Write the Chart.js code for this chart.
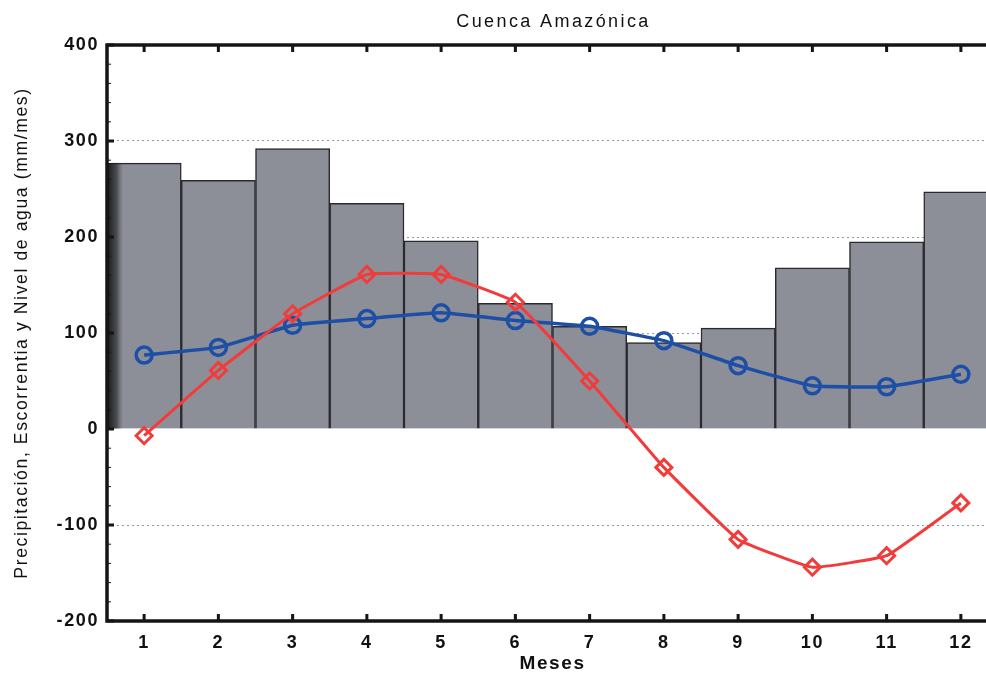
<!DOCTYPE html>
<html>
<head>
<meta charset="utf-8">
<title>Cuenca Amazónica</title>
<script src="https://cdn.jsdelivr.net/npm/chart.js@4/dist/chart.umd.min.js"></script>
<style>
  html, body { margin: 0; padding: 0; background: #fff; overflow: hidden; }
  #wrap { width: 1010px; height: 675px; }
</style>
</head>
<body>
<div id="wrap"><canvas id="graphCanvas" width="1010" height="675"></canvas></div>
<script>
// Data (mm/mes)
const months = ['1', '2', '3', '4', '5', '6', '7', '8', '9', '10', '11', '12'];
const precipitation = [277, 259, 292, 235, 196, 131, 107, 90, 105, 168, 195, 247];
const runoff = [77, 85, 108, 115, 121, 113, 107, 92, 66, 45, 44, 57];
const waterLevel = [-7, 61, 120, 161, 161, 132, 50, -40, -115, -144, -132, -77];
const yTicks = [-200, -100, 0, 100, 200, 300, 400];
const gridValues = [-100, 100, 200, 300];

const chartTitle = 'Cuenca Amazónica';
const xTitle = 'Meses';
const yTitle = 'Precipitación, Escorrentia y Nivel de agua (mm/mes)';

Chart.defaults.font.family = '"Liberation Sans", Arial, sans-serif';
Chart.defaults.color = '#111';

// scanned text looks stretched, so space the letters out
const spacing = {
    id: 'spacing',
    beforeLayout(chart) { chart.ctx.letterSpacing = '1.6px'; },
    beforeDraw(chart) { chart.ctx.letterSpacing = '1.6px'; }
};

// title centred over the plot area
const plotTitle = {
    id: 'plotTitle',
    afterDraw(chart) {
        const { ctx, chartArea } = chart;
        ctx.save();
        ctx.letterSpacing = '2.4px';
        ctx.font = '18px "Liberation Sans", Arial, sans-serif';
        ctx.fillStyle = '#111';
        ctx.textAlign = 'center';
        ctx.textBaseline = 'middle';
        ctx.fillText(chartTitle, (chartArea.left + chartArea.right) / 2 + 1, 22);
        ctx.restore();
    }
};

// dark scan shadow on the left of the first bar
const barShadow = {
    id: 'barShadow',
    afterDatasetDraw(chart, args) {
        if (args.meta.type !== 'bar') return;
        const bar = args.meta.data[0];
        const { ctx } = chart;
        const x0 = bar.x - bar.width / 2;
        const g = ctx.createLinearGradient(x0, 0, x0 + 16, 0);
        g.addColorStop(0, 'rgba(15,15,18,0.95)');
        g.addColorStop(0.6, 'rgba(30,30,35,0.6)');
        g.addColorStop(1, 'rgba(60,60,70,0)');
        ctx.save();
        ctx.fillStyle = g;
        ctx.fillRect(x0, bar.y, 16, bar.base - bar.y);
        ctx.restore();
    }
};

// heavy frame with inward tick marks
const frame = {
    id: 'frame',
    afterDatasetsDraw(chart) {
        const { ctx, chartArea: a, scales } = chart;
        const xs = scales.x, ys = scales.y;
        ctx.save();
        ctx.strokeStyle = '#151515';
        ctx.lineCap = 'butt';
        ctx.lineWidth = 3.5;
        ctx.beginPath();
        ctx.moveTo(a.right + 5, a.top);
        ctx.lineTo(a.left, a.top);
        ctx.lineTo(a.left, a.bottom);
        ctx.lineTo(a.right + 5, a.bottom);
        ctx.stroke();

        ctx.lineWidth = 3;
        months.forEach((m, i) => {
            const x = xs.getPixelForValue(i);
            ctx.beginPath();
            ctx.moveTo(x, a.bottom);
            ctx.lineTo(x, a.bottom - 7);
            ctx.moveTo(x, a.top);
            ctx.lineTo(x, a.top + 7);
            ctx.stroke();
        });
        yTicks.forEach(v => {
            const y = ys.getPixelForValue(v);
            ctx.beginPath();
            ctx.moveTo(a.left, y);
            ctx.lineTo(a.left + 7, y);
            ctx.stroke();
        });
        ctx.lineWidth = 1;
        for (let v = ys.min; v <= ys.max; v += 20) {
            const y = ys.getPixelForValue(v);
            ctx.beginPath();
            ctx.moveTo(a.left, y);
            ctx.lineTo(a.left + 4, y);
            ctx.stroke();
        }
        ctx.restore();
    }
};

const ctx = document.getElementById('graphCanvas').getContext('2d');
const chart = new Chart(ctx, {
    data: {
        labels: months,
        datasets: [
            {
                type: 'line',
                label: 'Nivel de agua',
                data: waterLevel,
                borderColor: '#f23b3b',
                borderWidth: 3,
                tension: 0.1,
                pointStyle: 'rectRot',
                pointRadius: 8,
                pointBorderWidth: 3,
                pointBackgroundColor: 'rgba(0,0,0,0)',
                pointBorderColor: '#f23b3b',
                order: 1
            },
            {
                type: 'line',
                label: 'Escorrentia',
                data: runoff,
                borderColor: '#1d4fa6',
                borderWidth: 3.5,
                tension: 0.1,
                pointStyle: 'circle',
                pointRadius: 8,
                pointBorderWidth: 3.5,
                pointBackgroundColor: 'rgba(0,0,0,0)',
                pointBorderColor: '#1d4fa6',
                order: 2
            },
            {
                type: 'bar',
                label: 'Precipitación',
                data: precipitation,
                backgroundColor: '#8d8f98',
                borderColor: '#2a2a2f',
                borderWidth: 1.5,
                barPercentage: 1,
                categoryPercentage: 1,
                order: 3
            }
        ]
    },
    options: {
        responsive: false,
        animation: false,
        layout: { padding: { top: 45, right: 12, left: 0, bottom: 0 } },
        plugins: {
            legend: { display: false },
            title: { display: false },
            tooltip: { enabled: false }
        },
        scales: {
            x: {
                type: 'category',
                offset: true,
                grid: { display: false },
                border: { display: false },
                ticks: {
                    padding: 3,
                    font: { size: 18, weight: 'bold' },
                    color: '#111'
                },
                title: {
                    display: true,
                    text: xTitle,
                    font: { size: 19, weight: 'bold' },
                    padding: { top: 0, bottom: 0 }
                },
                afterFit(scale) { scale.height = 54; }
            },
            y: {
                min: -200,
                max: 400,
                grid: {
                    drawTicks: false,
                    lineWidth: 1,
                    color: c => gridValues.includes(c.tick.value) ? 'rgba(110,120,145,0.75)' : 'rgba(0,0,0,0)'
                },
                border: { display: false, dash: [2, 3] },
                ticks: {
                    stepSize: 100,
                    padding: 8,
                    font: { size: 18, weight: 'bold' },
                    color: '#111'
                },
                title: {
                    display: true,
                    text: yTitle,
                    font: { size: 17.6, weight: 'normal' },
                    padding: { top: 12, bottom: 0 }
                },
                afterFit(scale) { scale.width = 107; }
            }
        }
    },
    plugins: [spacing, barShadow, frame, plotTitle]
});
</script>
</body>
</html>
